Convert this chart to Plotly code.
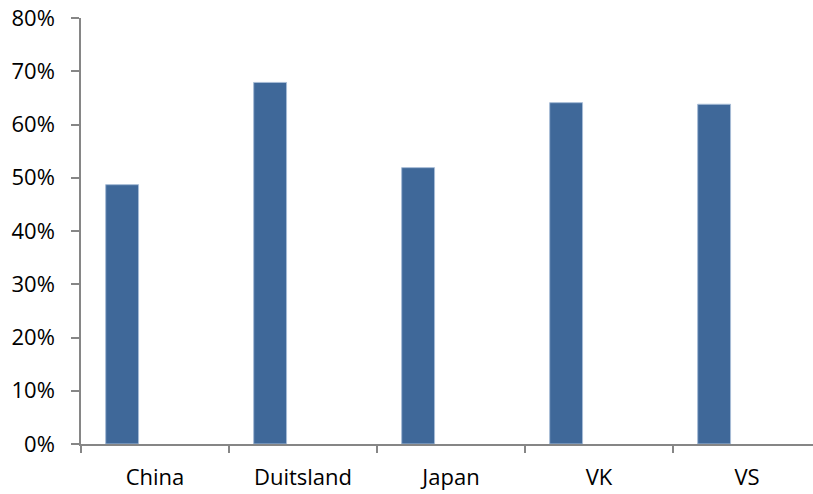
import plotly.graph_objects as go

categories = ["China", "Duitsland", "Japan", "VK", "VS"]
values = [0.487, 0.679, 0.519, 0.641, 0.638]
y_ticks = [0, 0.1, 0.2, 0.3, 0.4, 0.5, 0.6, 0.7, 0.8]
y_labels = ["0%", "10%", "20%", "30%", "40%", "50%", "60%", "70%", "80%"]

fig = go.Figure()
fig.add_trace(go.Bar(
    x=categories, y=values,
    width=1 / 4.5, offset=-0.5 + 0.75 / 4.5,
    marker=dict(color="#3F6899", line=dict(color="#A7BCD6", width=1)),
))

font = dict(family="Open Sans", size=22, color="#000000")
fig.update_layout(
    width=813, height=494,
    margin=dict(l=81, r=0, t=18, b=50),
    paper_bgcolor="white", plot_bgcolor="white",
    showlegend=False,
    font=font,
    xaxis=dict(
        type="category", range=[-0.5, 4.446],
        showline=True, linecolor="#868686", linewidth=1.5,
        ticks="outside", tickson="boundaries", ticklen=7, tickcolor="#868686", tickwidth=1.5,
        showgrid=False, zeroline=False, ticklabelstandoff=13,
        tickfont=font,
    ),
    yaxis=dict(
        range=[0, 0.8], tickvals=y_ticks, ticktext=y_labels,
        showline=True, linecolor="#868686", linewidth=1.5,
        ticks="outside", ticklen=8, tickcolor="#868686", tickwidth=1.5,
        showgrid=False, zeroline=False, ticklabelstandoff=12,
        tickfont=font,
    ),
)
fig.write_html("out.html")
